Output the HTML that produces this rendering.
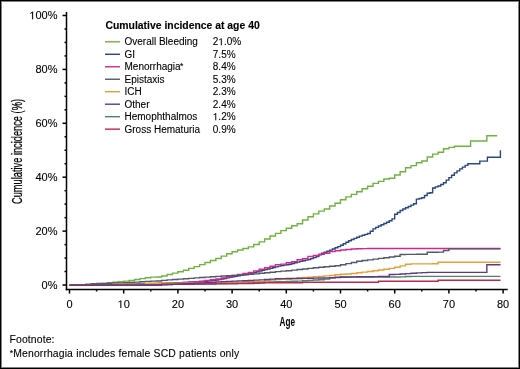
<!DOCTYPE html>
<html><head><meta charset="utf-8"><style>
html,body{margin:0;padding:0;background:#fff;}
body{width:520px;height:369px;overflow:hidden;position:relative;}
svg{position:absolute;left:0;top:0;will-change:transform;}
text{font-family:"Liberation Sans",sans-serif;fill:#000;stroke:#000;stroke-width:0.1px;}
.one{fill:#000;stroke:#000;stroke-width:0.1px;vector-effect:non-scaling-stroke;}
</style></head><body>
<svg width="520" height="369" viewBox="0 0 520 369">
<rect x="0.5" y="0.5" width="519" height="368" fill="#fff" stroke="#000" stroke-width="1"/>
<rect x="1.5" y="1.5" width="517" height="366" fill="none" stroke="#808080" stroke-width="1"/>
<g fill="none" stroke-width="1.4" stroke-linejoin="miter">
<path d="M69.50,285.10H91.18V284.75H96.60V284.26H102.02V283.46H107.44V282.79H112.86V282.24H118.28V281.70H123.70V281.16H129.12V280.51H134.54V279.55H139.96V278.60H145.38V277.68H150.80V277.09H156.22V277.00H161.64V276.01H167.06V274.51H172.48V273.16H177.90V271.82H183.32V270.19H188.74V268.42H194.16V266.59H199.58V264.64H205.00V262.52H210.42V260.55H215.84V258.48H221.26V256.15H226.68V253.77H232.10V251.82H237.52V249.94H242.94V248.47H248.36V246.83H253.78V244.44H259.20V241.89H264.62V239.02H270.04V236.00H275.46V233.39H280.88V230.60H286.30V228.20H291.72V225.70H297.14V223.70H302.56V220.00H307.98V216.70H313.40V213.90H318.82V211.10H324.24V209.00H329.66V206.00H335.08V203.20H340.50V199.80H345.92V196.90H351.34V194.40H356.76V191.70H362.18V188.70H367.60V186.30H373.02V183.40H378.44V181.40H383.86V179.00H389.28V178.30H394.70V175.00H400.12V171.70H405.54V167.70H410.96V165.60H416.38V162.80H421.80V161.00H427.22V157.00H432.64V154.10H438.06V152.30H443.48V148.80H448.90V147.40H454.32V146.20H470.58V141.00H486.84V135.70H497.20" stroke="#6fb33f"/>
<path d="M69.50,285.10H83.05V284.98H85.76V284.49H88.47V284.47H91.18V284.44H93.89V284.42H96.60V284.39H99.31V284.37H102.02V284.35H104.73V284.32H107.44V284.30H110.15V284.27H112.86V284.25H115.57V284.23H118.28V284.20H120.99V284.15H123.70V284.09H126.41V284.03H129.12V283.96H131.83V283.90H134.54V283.84H137.25V283.78H139.96V283.72H142.67V283.66H145.38V283.60H148.09V283.54H150.80V283.48H153.51V283.42H156.22V283.35H158.93V283.29H161.64V283.20H164.35V283.11H167.06V283.03H169.77V282.94H172.48V282.85H175.19V282.76H177.90V282.67H180.61V282.59H183.32V282.50H186.03V282.41H188.74V282.32H191.45V282.23H194.16V282.15H196.87V282.06H199.58V281.89H202.29V281.56H205.00V281.24H207.71V280.91H210.42V280.59H213.13V280.26H215.84V279.94H218.55V279.61H221.26V279.05H223.97V278.47H226.68V277.90H229.39V277.32H232.10V276.75H234.81V276.18H237.52V275.68H240.23V275.22H242.94V274.77H245.65V274.31H248.36V273.85H251.07V273.17H253.78V272.46H256.49V271.76H259.20V271.06H261.91V270.35H264.62V269.65H267.33V268.94H270.04V268.24H272.75V267.53H275.46V266.83H278.17V266.12H280.88V265.62H283.59V265.16H286.30V264.70H289.01V264.21H291.72V263.50H294.43V262.80H297.14V262.09H299.85V261.41H302.56V260.76H305.27V260.11H307.98V259.46H310.69V258.56H313.40V257.58H316.11V256.59H318.82V254.82H321.53V253.18H324.24V252.20H326.95V251.21H329.66V250.15H332.37V248.96H335.08V247.77H337.79V246.58H340.50V245.18H343.21V243.69H345.92V242.20H348.63V240.71H351.34V239.54H354.05V238.38H356.76V237.21H359.47V236.13H362.18V235.23H364.89V234.34H367.60V233.44H370.31V231.29H373.02V228.84H375.73V227.42H378.44V226.01H381.15V224.72H383.86V223.45H386.57V222.18H389.28V220.76H391.99V218.86H394.70V214.18H397.41V212.48H400.12V210.45H402.83V208.99H405.54V207.74H408.25V206.48H410.96V205.10H413.67V203.70H416.38V199.13H419.09V198.48H421.80V197.72H424.51V195.56H427.22V193.18H429.93V192.80H432.64V187.94H435.35V186.92H438.06V186.00H440.77V184.44H443.48V182.71H446.19V180.16H448.90V177.58H451.61V175.19H454.32V172.89H457.03V170.83H459.74V168.90H462.45V167.16H465.16V165.42H467.87V163.80H479.80V161.10H487.40V157.20H500.40V150.2" stroke="#2a4784"/>
<path d="M69.50,285.10H150.80V284.87H156.22V284.52H161.64V284.17H167.06V283.81H172.48V283.59H177.90V283.31H183.32V282.56H188.74V281.93H194.16V281.66H199.58V281.20H205.00V280.50H210.42V279.76H215.84V279.00H221.26V277.91H226.68V276.70H232.10V275.49H237.52V274.43H242.94V273.47H248.36V272.39H253.78V270.84H259.20V269.29H264.62V267.73H270.04V266.18H275.46V264.62H280.88V264.10H286.30V262.70H291.72V261.69H297.14V259.79H302.56V258.81H307.98V256.40H313.40V255.50H318.82V254.29H324.24V253.31H329.66V251.61H335.08V250.75H340.50V250.05H345.92V249.45H351.34V249.06H356.76V248.73H362.18V248.60H367.60V248.50H500.50" stroke="#d4268e"/>
<path d="M69.50,285.10H85.76V284.46H91.18V283.71H96.60V283.54H102.02V283.38H107.44V283.21H112.86V283.04H118.28V282.88H123.70V282.71H129.12V282.48H134.54V282.13H139.96V281.78H145.38V281.42H150.80V281.16H156.22V280.94H161.64V280.42H167.06V279.83H172.48V279.46H177.90V279.11H183.32V278.76H188.74V278.37H194.16V277.88H199.58V277.45H205.00V277.10H210.42V276.75H215.84V276.39H221.26V276.06H226.68V275.74H232.10V275.41H237.52V275.09H242.94V274.76H248.36V274.39H253.78V273.85H259.20V273.31H264.62V272.77H270.04V272.20H275.46V271.60H280.88V271.11H286.30V270.68H291.72V270.13H297.14V269.55H302.56V268.97H307.98V268.39H313.40V267.81H318.82V267.26H324.24V266.77H329.66V266.26H335.08V265.72H340.50V264.81H345.92V263.64H351.34V262.48H356.76V261.31H362.18V260.55H367.60V259.83H373.02V259.12H378.44V258.40H383.86V257.68H389.28V256.96H394.70V256.24H400.12V254.49H405.54V254.42H410.96V254.36H416.38V254.29H421.80V254.23H427.22V252.27H432.64V252.20H438.06V252.13H443.48V250.55H448.90V248.90H500.50" stroke="#4f586c"/>
<path d="M69.50,285.10H112.86V284.10H145.38V283.38H150.80V283.34H156.22V283.30H161.64V283.26H167.06V283.22H172.48V283.18H177.90V283.14H183.32V283.10H188.74V283.06H194.16V283.02H199.58V282.94H205.00V282.80H210.42V282.66H215.84V282.52H221.26V282.38H226.68V282.24H232.10V282.09H237.52V281.95H242.94V281.81H248.36V281.69H253.78V281.65H259.20V281.60H264.62V280.82H270.04V280.03H275.46V279.59H280.88V279.41H286.30V279.23H291.72V278.58H297.14V277.82H302.56V277.46H307.98V277.11H313.40V276.75H318.82V276.37H324.24V275.90H329.66V275.43H335.08V274.70H340.50V274.20H345.92V274.04H351.34V273.47H356.76V272.77H362.18V272.16H367.60V271.56H373.02V270.80H378.44V270.04H383.86V269.28H389.28V268.40H394.70V267.32H400.12V265.86H405.54V264.25H410.96V263.88H416.38V263.87H421.80V263.85H427.22V263.83H432.64V263.81H438.06V262.20H500.50" stroke="#e89f35"/>
<path d="M69.50,285.09H74.92V285.07H80.34V285.05H85.76V285.03H91.18V285.01H96.60V284.99H102.02V284.97H107.44V284.95H112.86V284.93H118.28V284.91H123.70V284.89H129.12V284.87H134.54V284.85H139.96V284.83H145.38V284.81H150.80V284.74H156.22V284.66H161.64V284.57H167.06V284.48H172.48V284.40H177.90V284.31H183.32V284.22H188.74V284.14H194.16V284.05H199.58V283.95H205.00V283.85H210.42V283.74H215.84V283.63H221.26V283.52H226.68V283.41H232.10V283.30H237.52V283.20H242.94V283.09H248.36V282.95H253.78V282.71H259.20V282.48H264.62V282.24H270.04V282.00H275.46V281.80H280.88V281.63H286.30V281.45H291.72V281.28H297.14V281.10H302.56V280.75H307.98V280.39H313.40V280.03H318.82V279.71H324.24V279.07H329.66V278.16H335.08V277.62H340.50V277.32H345.92V277.20H351.34V277.07H356.76V277.00H400.12V276.84H405.54V276.53H410.96V276.40H500.50" stroke="#4a8665"/>
<path d="M69.50,285.10H156.22V284.68H161.64V284.20H188.74V284.18H194.16V284.12H199.58V284.06H205.00V283.99H210.42V283.93H215.84V283.87H221.26V283.80H226.68V283.74H232.10V283.68H237.52V283.61H242.94V283.55H248.36V283.46H253.78V283.27H259.20V283.08H264.62V282.89H270.04V282.80H302.56V282.20H378.44V281.20H438.06V280.20H500.50" stroke="#c0264f"/>
<path d="M69.50,285.10H161.64V284.90H167.06V284.64H172.48V284.39H177.90V284.10H183.32V283.81H188.74V283.51H194.16V283.19H199.58V282.86H205.00V282.54H210.42V282.21H215.84V281.89H221.26V281.63H226.68V281.39H232.10V281.16H237.52V280.92H242.94V280.69H248.36V280.44H253.78V280.15H259.20V279.86H264.62V279.51H270.04V279.08H275.46V278.76H280.88V278.59H286.30V278.56H291.72V278.53H297.14V278.50H302.56V278.38H307.98V278.25H313.40V278.12H318.82V278.00H324.24V277.87H329.66V277.61H335.08V277.18H340.50V276.97H345.92V276.91H351.34V276.85H356.76V276.80H362.18V276.74H367.60V276.68H373.02V276.63H378.44V276.57H383.86V276.51H389.28V274.53H394.70V274.37H400.12V274.06H405.54V273.60H410.96V273.22H416.38V272.90H421.80V272.58H427.22V272.40H486.84V264.75H500.50" stroke="#603888"/>
</g>
<g stroke="#000" stroke-width="1.5">
<line x1="66.5" y1="12" x2="66.5" y2="290.25"/>
<line x1="65.75" y1="289.5" x2="507.7" y2="289.5"/>
<line x1="62.5" y1="285.00" x2="66.5" y2="285.00"/>
<line x1="64.5" y1="271.52" x2="66.5" y2="271.52"/>
<line x1="64.5" y1="258.05" x2="66.5" y2="258.05"/>
<line x1="64.5" y1="244.57" x2="66.5" y2="244.57"/>
<line x1="62.5" y1="231.10" x2="66.5" y2="231.10"/>
<line x1="64.5" y1="217.62" x2="66.5" y2="217.62"/>
<line x1="64.5" y1="204.15" x2="66.5" y2="204.15"/>
<line x1="64.5" y1="190.68" x2="66.5" y2="190.68"/>
<line x1="62.5" y1="177.20" x2="66.5" y2="177.20"/>
<line x1="64.5" y1="163.73" x2="66.5" y2="163.73"/>
<line x1="64.5" y1="150.25" x2="66.5" y2="150.25"/>
<line x1="64.5" y1="136.78" x2="66.5" y2="136.78"/>
<line x1="62.5" y1="123.30" x2="66.5" y2="123.30"/>
<line x1="64.5" y1="109.83" x2="66.5" y2="109.83"/>
<line x1="64.5" y1="96.35" x2="66.5" y2="96.35"/>
<line x1="64.5" y1="82.88" x2="66.5" y2="82.88"/>
<line x1="62.5" y1="69.40" x2="66.5" y2="69.40"/>
<line x1="64.5" y1="55.93" x2="66.5" y2="55.93"/>
<line x1="64.5" y1="42.45" x2="66.5" y2="42.45"/>
<line x1="64.5" y1="28.98" x2="66.5" y2="28.98"/>
<line x1="62.5" y1="15.50" x2="66.5" y2="15.50"/>
<line x1="69.50" y1="289.5" x2="69.50" y2="293.5"/>
<line x1="96.60" y1="289.5" x2="96.60" y2="291.5"/>
<line x1="123.70" y1="289.5" x2="123.70" y2="293.5"/>
<line x1="150.80" y1="289.5" x2="150.80" y2="291.5"/>
<line x1="177.90" y1="289.5" x2="177.90" y2="293.5"/>
<line x1="205.00" y1="289.5" x2="205.00" y2="291.5"/>
<line x1="232.10" y1="289.5" x2="232.10" y2="293.5"/>
<line x1="259.20" y1="289.5" x2="259.20" y2="291.5"/>
<line x1="286.30" y1="289.5" x2="286.30" y2="293.5"/>
<line x1="313.40" y1="289.5" x2="313.40" y2="291.5"/>
<line x1="340.50" y1="289.5" x2="340.50" y2="293.5"/>
<line x1="367.60" y1="289.5" x2="367.60" y2="291.5"/>
<line x1="394.70" y1="289.5" x2="394.70" y2="293.5"/>
<line x1="421.80" y1="289.5" x2="421.80" y2="291.5"/>
<line x1="448.90" y1="289.5" x2="448.90" y2="293.5"/>
<line x1="476.00" y1="289.5" x2="476.00" y2="291.5"/>
<line x1="503.10" y1="289.5" x2="503.10" y2="293.5"/>
</g>
<g>
<text x="41.602" y="288.800" font-size="11">0%</text>
<text x="35.484" y="234.900" font-size="11">20%</text>
<text x="35.484" y="181.000" font-size="11">40%</text>
<text x="35.484" y="127.100" font-size="11">60%</text>
<text x="35.484" y="73.200" font-size="11">80%</text>
<text x="29.366" y="19.300" font-size="11"> 00%</text><path d="M515,0L515,1237L197,1010L197,1180L530,1409L696,1409L696,0Z" transform="translate(29.366,19.300) scale(0.005371,-0.005371)" class="one"/>
<text x="66.441" y="308.000" font-size="11">0</text>
<text x="117.582" y="308.000" font-size="11"> 0</text><path d="M515,0L515,1237L197,1010L197,1180L530,1409L696,1409L696,0Z" transform="translate(117.582,308.000) scale(0.005371,-0.005371)" class="one"/>
<text x="171.782" y="308.000" font-size="11">20</text>
<text x="225.982" y="308.000" font-size="11">30</text>
<text x="280.182" y="308.000" font-size="11">40</text>
<text x="334.382" y="308.000" font-size="11">50</text>
<text x="388.582" y="308.000" font-size="11">60</text>
<text x="442.782" y="308.000" font-size="11">70</text>
<text x="496.982" y="308.000" font-size="11">80</text>
</g>
<text x="105.5" y="29.2" font-size="10.4" font-weight="bold" style="stroke-width:0.12px">Cumulative incidence at age 40</text>
<g font-size="10">
<line x1="105" y1="41.80" x2="120" y2="41.80" stroke="#6fb33f" stroke-width="1.4"/>
<text x="124.5" y="45.30">Overall Bleeding</text>
<text x="212.800" y="45.300" font-size="10">2 .0%</text><path d="M515,0L515,1237L197,1010L197,1180L530,1409L696,1409L696,0Z" transform="translate(218.362,45.300) scale(0.004883,-0.004883)" class="one"/>
<line x1="105" y1="54.28" x2="120" y2="54.28" stroke="#2a4784" stroke-width="1.4"/>
<text x="124.5" y="57.78">GI</text>
<text x="212.800" y="57.780" font-size="10">7.5%</text>
<line x1="105" y1="66.76" x2="120" y2="66.76" stroke="#d4268e" stroke-width="1.4"/>
<text x="124.5" y="70.26">Menorrhagia<tspan font-size="8.5" dx="-0.6" dy="-1.0">*</tspan></text>
<text x="212.800" y="70.260" font-size="10">8.4%</text>
<line x1="105" y1="79.24" x2="120" y2="79.24" stroke="#4f586c" stroke-width="1.4"/>
<text x="124.5" y="82.74">Epistaxis</text>
<text x="212.800" y="82.740" font-size="10">5.3%</text>
<line x1="105" y1="91.72" x2="120" y2="91.72" stroke="#e89f35" stroke-width="1.4"/>
<text x="124.5" y="95.22">ICH</text>
<text x="212.800" y="95.220" font-size="10">2.3%</text>
<line x1="105" y1="104.20" x2="120" y2="104.20" stroke="#603888" stroke-width="1.4"/>
<text x="124.5" y="107.70">Other</text>
<text x="212.800" y="107.700" font-size="10">2.4%</text>
<line x1="105" y1="116.68" x2="120" y2="116.68" stroke="#4a8665" stroke-width="1.4"/>
<text x="124.5" y="120.18">Hemophthalmos</text>
<text x="212.800" y="120.180" font-size="10"> .2%</text><path d="M515,0L515,1237L197,1010L197,1180L530,1409L696,1409L696,0Z" transform="translate(212.800,120.180) scale(0.004883,-0.004883)" class="one"/>
<line x1="105" y1="129.16" x2="120" y2="129.16" stroke="#c0264f" stroke-width="1.4"/>
<text x="124.5" y="132.66">Gross Hematuria</text>
<text x="212.800" y="132.660" font-size="10">0.9%</text>
</g>
<text transform="translate(21.7,204) rotate(-90) scale(0.662,1)" font-size="14" style="stroke-width:0.25px">Cumulative incidence (%)</text>
<text transform="translate(287.2,325.8) scale(0.63,1)" font-size="13" font-weight="bold" text-anchor="middle" style="stroke-width:0">Age</text>
<g font-size="10.4" letter-spacing="0.12" word-spacing="0.2">
<text x="9.6" y="342.8">Footnote:</text>
<text x="9.8" y="356.5"><tspan font-size="8.8" dy="-0.6">*</tspan><tspan dy="0.6">Menorrhagia</tspan> includes female SCD patients only</text>
</g>
</svg>
</body></html>
